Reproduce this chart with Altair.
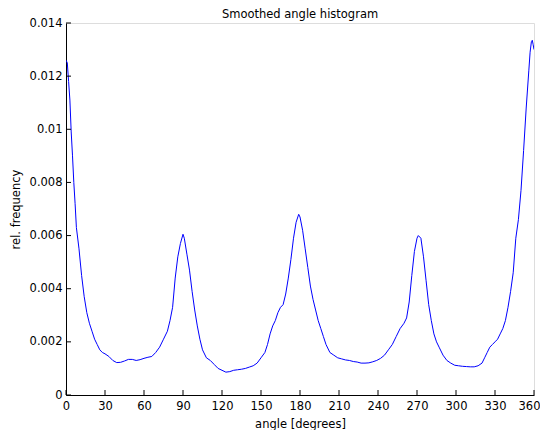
import altair as alt
import pandas as pd

angles = [0, 1, 2, 3, 4, 5, 6, 7, 8, 10, 12, 14, 16, 18, 20, 22, 24, 26, 28, 30,
          33, 36, 39, 42, 45, 48, 51, 54, 57, 60, 63, 66, 69, 72, 75, 78, 80, 82, 84, 86,
          88, 90, 91, 93, 95, 97, 99, 101, 103, 105, 108, 111, 114, 117, 120, 123, 126, 129, 132, 135,
          138, 141, 144, 147, 150, 153, 155, 157, 159, 161, 163, 165, 167, 169, 171, 173, 175, 177, 179, 180,
          182, 184, 186, 188, 190, 192, 194, 196, 198, 200, 203, 206, 209, 212, 215, 218, 221, 224, 227, 230,
          233, 236, 239, 242, 245, 248, 251, 254, 257, 260, 262, 264, 266, 268, 270, 271, 273, 275, 277, 279,
          281, 283, 285, 287, 290, 293, 296, 299, 302, 305, 308, 311, 314, 317, 320, 322, 324, 326, 328, 330,
          332, 334, 336, 338, 340, 342, 344, 346, 348, 350, 352, 354, 356, 357, 358, 358.7, 359.3, 360]

freq = [0.0126, 0.0125, 0.0118, 0.0111, 0.0099, 0.0090, 0.0080, 0.0072, 0.0063, 0.0055,
        0.0045, 0.0037, 0.0031, 0.0027, 0.0024, 0.0021, 0.0019, 0.0017, 0.0016, 0.00155,
        0.00145, 0.0013, 0.00122, 0.00123, 0.00128, 0.00134, 0.00134, 0.0013, 0.00133, 0.00138,
        0.00142, 0.00145, 0.0016, 0.0018, 0.0021, 0.0024, 0.0028, 0.0033, 0.0044, 0.0052,
        0.0057, 0.00605, 0.0059, 0.0053, 0.0047, 0.0039, 0.0032, 0.0026, 0.0021, 0.0017,
        0.0014, 0.0013, 0.00115, 0.0010, 0.00093, 0.00086, 0.00088, 0.00093, 0.00095, 0.00097,
        0.0010, 0.00105, 0.0011, 0.0012, 0.0014, 0.0016, 0.0019, 0.0023, 0.0026, 0.0028,
        0.0031, 0.0033, 0.0034, 0.0038, 0.0044, 0.0051, 0.0059, 0.0065, 0.0068, 0.0067,
        0.0062, 0.0055, 0.0048, 0.0041, 0.0036, 0.0032, 0.0028, 0.0025, 0.0022, 0.0019,
        0.0016, 0.0015, 0.0014, 0.00136, 0.00132, 0.0013, 0.00126, 0.00124, 0.0012, 0.0012,
        0.00121, 0.00125, 0.0013, 0.00138, 0.0015, 0.0017, 0.0019, 0.0022, 0.0025, 0.0027,
        0.0029, 0.0035, 0.0045, 0.0054, 0.0059, 0.0060, 0.0059, 0.0052, 0.0043, 0.0034,
        0.0028, 0.0023, 0.0020, 0.0018, 0.0015, 0.0013, 0.0012, 0.00112, 0.0011, 0.00108,
        0.00107, 0.00106, 0.00106, 0.0011, 0.0012, 0.0014, 0.0016, 0.0018, 0.0019, 0.0020,
        0.0021, 0.0023, 0.0025, 0.0028, 0.0033, 0.0039, 0.0046, 0.0059, 0.0066, 0.0077,
        0.0092, 0.0108, 0.0122, 0.0129, 0.0133, 0.01335, 0.0132, 0.0130]

x_ticks = [0, 30, 60, 90, 120, 150, 180, 210, 240, 270, 300, 330, 360]
y_ticks = [0, 0.002, 0.004, 0.006, 0.008, 0.01, 0.012, 0.014]

df = pd.DataFrame({"angle": angles, "freq": freq})
FONT = "DejaVu Sans"
FS = 11.5

xs = alt.Scale(domain=[0, 360], nice=False, zero=False)
ys = alt.Scale(domain=[0, 0.014], nice=False)

common = dict(grid=False, tickSize=0, domainColor="black", labelColor="black",
              titleColor="black", labelFont=FONT, titleFont=FONT, labelFontSize=FS,
              titleFontSize=FS, titleFontWeight="normal", labelOverlap=False,
              labelFlush=False, domainWidth=1)
x_axis = alt.Axis(values=x_ticks, title="angle [degrees]", labelPadding=5,
                  titlePadding=7, format="d",
                  labelOffset={"condition": {"test": "datum.value == 360", "value": -5}, "value": 0},
                  **common)
y_axis = alt.Axis(values=y_ticks, title="rel. frequency", labelPadding=4,
                  titlePadding=8, format="~g", **common)

line = alt.Chart(df).mark_line(color="#0000ff", strokeWidth=1, clip=True).encode(
    x=alt.X("angle:Q", scale=xs, axis=x_axis),
    y=alt.Y("freq:Q", scale=ys, axis=y_axis),
)

xt = alt.Chart(pd.DataFrame({"t": x_ticks})).mark_rule(color="black", strokeWidth=1).encode(
    x=alt.X("t:Q", scale=xs, axis=x_axis), y=alt.value(372), y2=alt.value(367))
yt = alt.Chart(pd.DataFrame({"t": y_ticks})).mark_rule(color="black", strokeWidth=1).encode(
    y=alt.Y("t:Q", scale=ys, axis=y_axis), x=alt.value(0), x2=alt.value(5))

chart = alt.layer(line, xt, yt).properties(
    width=468, height=372,
    title=alt.TitleParams("Smoothed angle histogram", fontSize=FS, fontWeight="normal",
                          font=FONT, color="black", offset=-3, anchor="middle"),
    autosize=alt.AutoSizeParams(type="none"),
    padding={"left": 58, "top": 15, "right": 6, "bottom": 35},
).configure_view(stroke=None).configure(background="white")

chart.save("out.html", embed_options={"renderer": "svg", "actions": False})
